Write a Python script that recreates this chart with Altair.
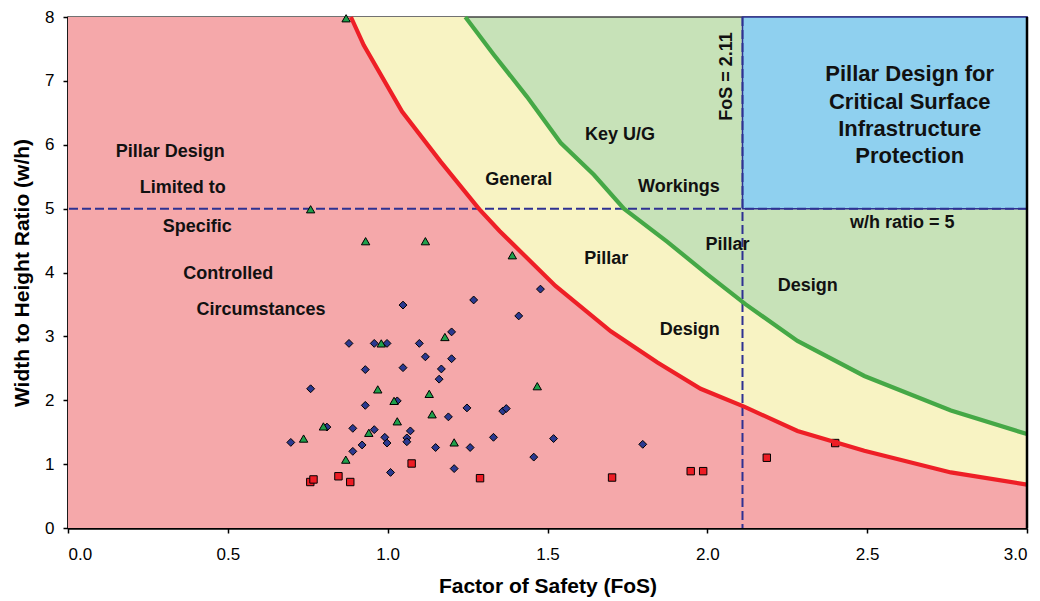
import altair as alt
import pandas as pd

# ---------------- data ----------------
X_MAX = 3.0
Y_MAX = 8.0
FOS_LIMIT = 2.11
WH_LIMIT = 5.0

# red boundary curve (limit of "general pillar design")
red_x = [0.885, 0.925, 1.045, 1.165, 1.285, 1.35, 1.525, 1.698, 1.844, 1.979, 2.115, 2.282, 2.491, 2.762, 3.0]
red_y = [8.0, 7.56, 6.52, 5.74, 5.0, 4.65, 3.79, 3.08, 2.59, 2.18, 1.90, 1.52, 1.21, 0.87, 0.68]

# green boundary curve (key U/G workings)
green_x = [1.243, 1.332, 1.436, 1.541, 1.645, 1.739, 1.875, 2.0, 2.12, 2.282, 2.491, 2.762, 3.0]
green_y = [8.0, 7.41, 6.75, 6.03, 5.53, 5.0, 4.48, 3.97, 3.5, 2.93, 2.38, 1.84, 1.47]

# case histories
diamond_x = [1.048, 1.269, 1.410, 1.478, 1.200, 0.879, 0.958, 0.998, 1.099, 1.118, 1.200, 1.048, 0.930,
             1.168, 1.161, 0.759, 1.030, 0.930, 1.248, 1.360, 1.371, 1.190, 0.810, 0.891, 0.958, 1.071,
             0.991, 1.060, 1.060, 0.998, 0.697, 1.331, 0.920, 1.150, 1.258, 0.891, 1.009, 1.208, 1.798,
             1.519, 1.457]
diamond_y = [3.49, 3.57, 3.32, 3.74, 3.07, 2.89, 2.89, 2.89, 2.89, 2.68, 2.65, 2.51, 2.48,
             2.49, 2.33, 2.18, 1.99, 1.92, 1.88, 1.83, 1.87, 1.74, 1.58, 1.56, 1.54, 1.52,
             1.42, 1.41, 1.35, 1.33, 1.34, 1.42, 1.30, 1.26, 1.26, 1.20, 0.87, 0.93, 1.31,
             1.40, 1.11]

triangle_x = [0.870, 0.759, 0.931, 1.118, 1.390, 1.179, 0.980, 0.969, 1.130, 1.020, 1.468, 1.139,
              1.030, 0.799, 0.941, 0.737, 1.208, 0.869]
triangle_y = [7.98, 4.99, 4.49, 4.49, 4.27, 2.99, 2.89, 2.17, 2.10, 1.99, 2.22, 1.78,
              1.67, 1.59, 1.49, 1.40, 1.34, 1.07]

square_x = [0.758, 0.768, 0.846, 0.883, 1.075, 1.289, 1.702, 1.948, 1.987, 2.186, 2.400]
square_y = [0.72, 0.76, 0.81, 0.72, 1.01, 0.78, 0.79, 0.89, 0.89, 1.10, 1.33]

# annotations
region_labels = ["Pillar Design", "Limited to", "Specific", "Controlled", "Circumstances",
                 "General", "Key U/G", "Workings", "Pillar", "Design", "Pillar", "Design",
                 "w/h ratio = 5"]
region_label_x = [0.320, 0.359, 0.404, 0.501, 0.604, 1.410, 1.727, 1.911, 1.684, 1.945, 2.063, 2.314, 2.610]
region_label_y = [5.89, 5.32, 4.71, 3.98, 3.42, 5.45, 6.15, 5.34, 4.21, 3.10, 4.43, 3.79, 4.78]

box_lines = ["Pillar Design for", "Critical Surface", "Infrastructure", "Protection"]
box_line_x = [2.633, 2.633, 2.633, 2.633]
box_line_y = [7.11, 6.665, 6.248, 5.82]

fos_label = ["FoS = 2.11"]
fos_label_x = [2.060]
fos_label_y = [7.07]

# ---------------- tables ----------------
W, H = 959, 511
FONT = "Liberation Sans"

red_curve = pd.DataFrame({"fos": red_x, "wh": red_y, "i": list(range(len(red_x)))})
green_curve = pd.DataFrame({"fos": green_x, "wh": green_y, "i": list(range(len(green_x)))})
red_fill = pd.DataFrame({"fos": [0.0] + red_x, "wh": [Y_MAX] + red_y})
yellow_fill = pd.DataFrame({"fos": [0.0] + green_x, "wh": [Y_MAX] + green_y})
blue_box = pd.DataFrame({"fos": [FOS_LIMIT], "fos2": [X_MAX], "wh": [WH_LIMIT], "wh2": [Y_MAX]})
hline = pd.DataFrame({"wh": [WH_LIMIT]})
vline = pd.DataFrame({"fos": [FOS_LIMIT]})
rborder = pd.DataFrame({"fos": [X_MAX]})
diamonds = pd.DataFrame({"fos": diamond_x, "wh": diamond_y})
triangles = pd.DataFrame({"fos": triangle_x, "wh": triangle_y})
squares = pd.DataFrame({"fos": square_x, "wh": square_y})
labels = pd.DataFrame({"fos": region_label_x, "wh": region_label_y, "t": region_labels})
box_text = pd.DataFrame({"fos": box_line_x, "wh": box_line_y, "t": box_lines})
fos_text = pd.DataFrame({"fos": fos_label_x, "wh": fos_label_y, "t": fos_label})

xs = alt.Scale(domain=[0, X_MAX], nice=False, zero=False)
ys = alt.Scale(domain=[0, Y_MAX], nice=False, zero=True)

x_axis = alt.Axis(
    values=[0, 0.5, 1.0, 1.5, 2.0, 2.5, 3.0], format=".1f", grid=False,
    labelFont=FONT, labelFontSize=17, labelColor="black", labelPadding=13,
    tickSize=5, tickColor="black", tickWidth=1.5,
    domainColor="black", domainWidth=2.5,
    titleFont=FONT, titleFontSize=21, titleFontWeight="bold", titleColor="black",
    titleY=64, titleBaseline="alphabetic",
)
y_axis = alt.Axis(
    values=[0, 1, 2, 3, 4, 5, 6, 7, 8], format="d", grid=False,
    labelFont=FONT, labelFontSize=17, labelColor="black", labelPadding=9,
    tickSize=5, tickColor="black", tickWidth=1.5,
    domainColor="black", domainWidth=2.5,
    titleFont=FONT, titleFontSize=21, titleFontWeight="bold", titleColor="black",
    titleX=-40, titleBaseline="alphabetic",
)
XT = "Factor of Safety (FoS)"
YT = "Width to Height Ratio (w/h)"


def X(field="fos"):
    return alt.X(f"{field}:Q", scale=xs, axis=x_axis, title=XT)


def Y(field="wh"):
    return alt.Y(f"{field}:Q", scale=ys, axis=y_axis, title=YT)


yellow = alt.Chart(yellow_fill).mark_area(color="#f8f3c3", opacity=1).encode(x=X(), y=Y())
red = alt.Chart(red_fill).mark_area(color="#f5a8aa", opacity=1).encode(x=X(), y=Y())
blue = alt.Chart(blue_box).mark_rect(color="#8fd0ef", stroke="#2e3192", strokeWidth=1.5, opacity=1).encode(
    x=X(), x2="fos2:Q", y=Y(), y2="wh2:Q")

h_dash = alt.Chart(hline).mark_rule(color="#2e3192", strokeWidth=2, strokeDash=[9, 4]).encode(y=Y())
v_dash = alt.Chart(vline).mark_rule(color="#2e3192", strokeWidth=2, strokeDash=[9, 4]).encode(x=X())
right_border = alt.Chart(rborder).mark_rule(color="black", strokeWidth=2.5).encode(x=X())

pt_diam = alt.Chart(diamonds).mark_point(shape="diamond", filled=True, fill="#2b3990", stroke="black",
                                         strokeWidth=1, size=62, opacity=1).encode(x=X(), y=Y())
pt_tri = alt.Chart(triangles).mark_point(shape="triangle-up", filled=True, fill="#1fa04b", stroke="black",
                                         strokeWidth=1, size=70, opacity=1).encode(x=X(), y=Y())
pt_sq = alt.Chart(squares).mark_point(shape="square", filled=True, fill="#ed1c24", stroke="black",
                                      strokeWidth=1, size=55, opacity=1).encode(x=X(), y=Y())

red_line = alt.Chart(red_curve).mark_line(color="#ee1f26", strokeWidth=4.2).encode(
    x=X(), y=Y(), order="i:Q")
green_line = alt.Chart(green_curve).mark_line(color="#45a846", strokeWidth=4.2).encode(
    x=X(), y=Y(), order="i:Q")

txt = alt.Chart(labels).mark_text(font=FONT, fontSize=18, fontWeight="bold", color="#111111",
                                  align="center", baseline="middle").encode(x=X(), y=Y(), text="t:N")
box_txt = alt.Chart(box_text).mark_text(font=FONT, fontSize=22, fontWeight="bold", color="#111111",
                                        align="center", baseline="middle").encode(x=X(), y=Y(), text="t:N")
fos_txt = alt.Chart(fos_text).mark_text(font=FONT, fontSize=18, fontWeight="bold", color="#111111",
                                        align="center", baseline="middle", angle=270).encode(
    x=X(), y=Y(), text="t:N")

chart = alt.layer(
    yellow, red, blue, h_dash, v_dash, pt_diam, pt_tri, pt_sq, red_line, green_line,
    right_border, txt, box_txt, fos_txt
).properties(
    width=W, height=H,
    autosize=alt.AutoSizeParams(type="none"),
    padding={"left": 60, "top": 9, "right": 5, "bottom": 72},
).configure_view(
    fill="#c7e2b8", stroke="#444444", strokeWidth=1.5
)

chart.save("out.html", embed_options={"renderer": "svg", "actions": False})
